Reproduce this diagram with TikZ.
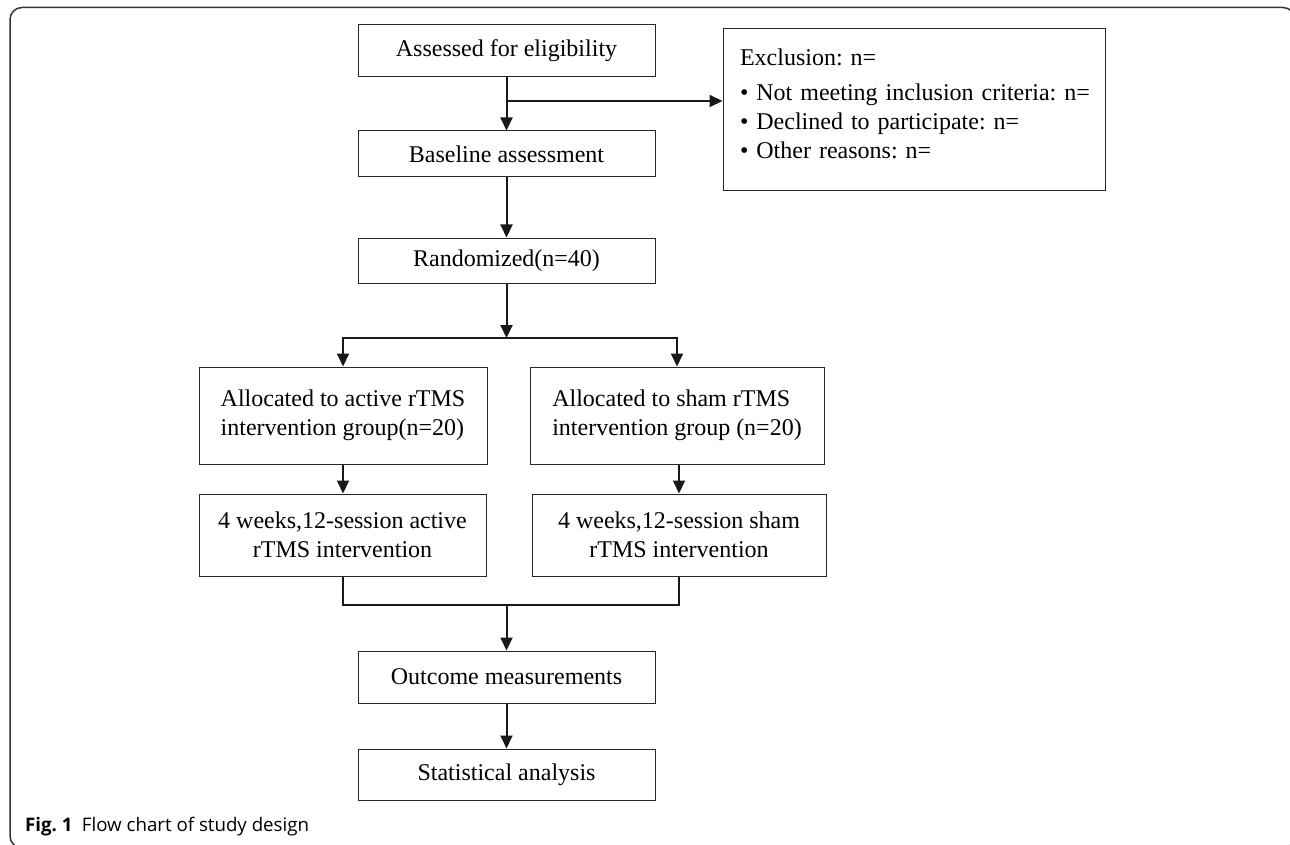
\documentclass[tikz,border=0pt]{standalone}
\usepackage{fontspec}
\setmainfont{Liberation Serif}
\newfontfamily\capfont{Open Sans}
\usetikzlibrary{arrows.meta}
\frenchspacing
\begin{document}
\begin{tikzpicture}[x=1pt,y=-1pt,
  box/.style={draw=black!85, line width=1pt, inner sep=0pt, font=\fontsize{24}{29}\selectfont},
  conn/.style={line width=2pt, draw=black!90},
  arr/.style={conn, -{Triangle[length=13pt,width=12pt]}},
  frame/.style={line width=1.5pt, draw=black!80, rounded corners=12pt},
]
\useasboundingbox (0,0) rectangle (1290,845);
\begin{scope}
\clip (0,0) rectangle (1290,845);
\draw[frame] (10,7.5) rectangle (1295,848);
\end{scope}

% main column
\node[box, minimum width=297pt, minimum height=52pt] (assess) at (506.5,51) {Assessed for eligibility};
\node[box, minimum width=297pt, minimum height=46pt] (base) at (506.5,154) {Baseline assessment};
\node[box, minimum width=297pt, minimum height=45pt] (rand) at (506.5,260.5) {Randomized(n=40)};

% exclusion
\node[box, align=left, text width=348pt, inner xsep=17pt, minimum height=162pt] (excl) at (914,110)
  {\mbox{Exclusion: n=}\\[6pt]
   \mbox{• Not meeting inclusion criteria: n=}\\
   \mbox{• Declined to participate: n=}\\
   \mbox{• Other reasons: n=}\rule[-13pt]{0pt}{13pt}};

% arms
\node[box, align=left, minimum width=288pt, minimum height=97pt] (actA) at (343,415.5)
  {Allocated to active rTMS\\intervention group(n=20)};
\node[box, align=left, minimum width=294pt, minimum height=97pt] (shamA) at (677,415.5)
  {Allocated to sham rTMS\\intervention group (n=20)};
\node[box, align=center, minimum width=287pt, minimum height=82pt] (actW) at (342.5,535)
  {4 weeks,12-session active\\rTMS intervention};
\node[box, align=center, minimum width=294pt, minimum height=82pt] (shamW) at (679,535)
  {4 weeks,12-session sham\\rTMS intervention};

% bottom
\node[box, minimum width=297pt, minimum height=52pt] (outc) at (506.5,677) {Outcome measurements};
\node[box, minimum width=297pt, minimum height=51pt] (stat) at (506.5,774.5) {Statistical analysis};

% connectors
\coordinate (ex) at (506.5,101);
\coordinate (split) at (506.5,338);
\coordinate (merge) at (506.5,605);

\draw[arr] (assess) -- (base);
\draw[arr] (ex) -- (excl.west |- ex);
\draw[arr] (base) -- (rand);
\draw[arr] (rand) -- (split);
\draw[arr] (split) -| (actA.north);
\draw[arr] (split) -| (shamA.north);
\draw[arr] (actA.south) -- (actA.south |- actW.north);
\draw[arr] (shamW.north |- shamA.south) -- (shamW.north);
\draw[conn] (actW.south) |- (merge) -| (shamW.south);
\draw[arr] (merge) -- (outc);
\draw[arr] (outc) -- (stat);

% caption
\node[anchor=base west, inner sep=0pt, font=\capfont\fontsize{18.7}{22}\selectfont] (cap) at (25,831)
  {\textbf{Fig. 1}\hspace{0.5em}Flow chart of study design};
\end{tikzpicture}
\end{document}
